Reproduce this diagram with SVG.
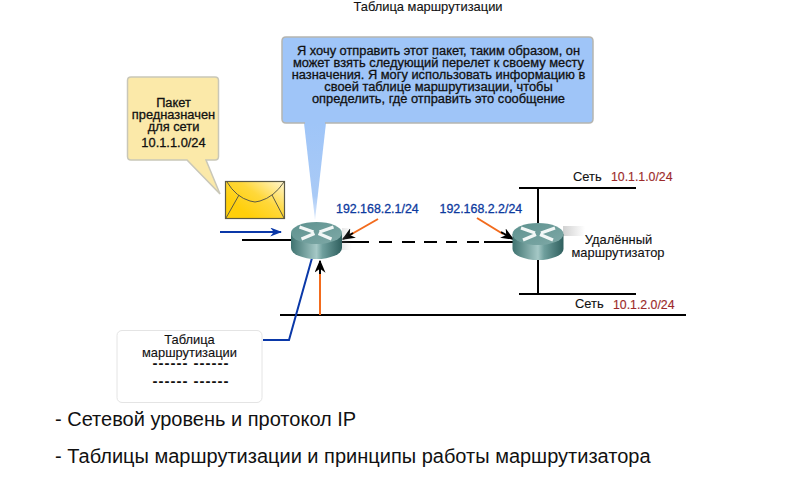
<svg xmlns="http://www.w3.org/2000/svg" width="800" height="500" viewBox="0 0 800 500">
<style>
text{font-family:"Liberation Sans",Arial,sans-serif;fill:#111;text-anchor:middle}
.s{font-size:12.9px;stroke:#111;stroke-width:.12}
.c{font-size:12.85px;stroke:#111;stroke-width:.3}
.ip{font-size:12.4px;fill:#0d3a9e;stroke:#0d3a9e;stroke-width:.3;text-anchor:start}
.net{font-size:12.3px;fill:#9c2a2a;stroke:#9c2a2a;stroke-width:.15;text-anchor:start}
.big{font-size:20px;text-anchor:start}
.dash{font-size:15px;font-weight:700;letter-spacing:1px}
.ln{stroke:#000;stroke-width:2;fill:none}
.or{stroke:#f26b1d;stroke-width:2;fill:none}
.bl{stroke:#0a38a8;stroke-width:2;fill:none}
.mark{fill:none;stroke:#f2f7f6;stroke-width:3.2}
</style>
<defs>
<linearGradient id="body" x1="0" x2="1" y1="0" y2="0">
<stop offset="0" stop-color="#3f7370"/><stop offset=".5" stop-color="#a5c8c6"/><stop offset=".62" stop-color="#6f9f9d"/><stop offset="1" stop-color="#2f5f5e"/>
</linearGradient>
<linearGradient id="top" x1="0" x2="1" y1="0" y2="1">
<stop offset="0" stop-color="#5d918e"/><stop offset="1" stop-color="#7fa9a7"/>
</linearGradient>
<linearGradient id="env" x1="0.2" x2="1" y1="0.7" y2="0">
<stop offset="0" stop-color="#ffcf0a"/><stop offset=".45" stop-color="#ffd83a"/><stop offset="1" stop-color="#fff6d2"/>
</linearGradient>
<linearGradient id="shade" x1="0" x2="1" y1="0" y2="0">
<stop offset="0" stop-color="#999" stop-opacity=".45"/><stop offset="1" stop-color="#999" stop-opacity="0"/>
</linearGradient>
<linearGradient id="tail" x1="0" x2="0" y1="0" y2="1">
<stop offset="0" stop-color="#9fc5f8"/><stop offset=".75" stop-color="#a9caf6"/><stop offset="1" stop-color="#dce9fb"/>
</linearGradient>
<marker id="ahb" viewBox="0 0 10 10" refX="9" refY="5" markerWidth="12" markerHeight="9" orient="auto" markerUnits="userSpaceOnUse" preserveAspectRatio="none"><path d="M0 0L10 5L0 10L3 5Z" fill="#0a38a8"/></marker>
<marker id="ahk" viewBox="0 0 10 10" refX="9" refY="5" markerWidth="13" markerHeight="11" orient="auto" markerUnits="userSpaceOnUse" preserveAspectRatio="none"><path d="M0 0L10 5L0 10L3 5Z" fill="#000"/></marker>
<g id="rt">
<path d="M-25.5 -11V4A25.5 11 0 0 0 25.5 4V-11Z" fill="url(#body)"/>
<ellipse cx="0" cy="-11" rx="25.5" ry="11" fill="url(#top)"/>
<path class="mark" d="M-17 -17L-3 -12M17 -17L3 -12M-15 -5L-2 -10.500M15 -5L2 -10.500"/>
</g>
</defs>
<rect width="800" height="500" fill="#fff"/>
<g id="title"><text class="s" x="428" y="11">Таблица маршрутизации</text></g>

<g id="connectors">
<path class="ln" d="M242 240H291"/>
<path class="ln" d="M342 242H369M379 242H392M402 242H415M424 242H437M446 242H457M467 242H479M484 242H513"/>
<path class="ln" d="M519 188H636M519 294H636M538 188V223M538 259V294"/>
<path class="ln" d="M280 315H686"/>
<path class="bl" d="M220 232H281" marker-end="url(#ahb)"/>
<path class="bl" d="M263 340H289L312 258"/>
<path class="or" d="M320 315V272"/>
<path class="ln" d="M320 274V261" marker-end="url(#ahk)"/>
<path class="or" d="M378 219L350 235"/>
<path class="ln" d="M353 233L343 239" marker-end="url(#ahk)"/>
<path class="or" d="M477 218L503 234"/>
<path class="ln" d="M501 232L513 239" marker-end="url(#ahk)"/>
</g>

<g id="packet-callout">
<path d="M131 77H215Q218.500 77 218.500 80.500V156.500Q218.500 160 215 160H206L220 194L187 160H131Q127.500 160 127.500 156.500V80.500Q127.500 77 131 77Z" fill="#fbe9a9" stroke="#c9c7b8" stroke-width="1.500"/>
<text class="c" x="173.500" y="107">Пакет</text>
<text class="c" x="173.500" y="119">предназначен</text>
<text class="c" x="173.500" y="131">для сети</text>
<text class="c" x="173.500" y="146.500">10.1.1.0/24</text>
</g>

<g id="envelope">
<rect x="225.500" y="181.500" width="59" height="37" fill="url(#env)" stroke="#5c5a45" stroke-width="1.200"/>
<path d="M227 182Q236 197 250 201Q255 203 260 201Q274 197 284 182M239 195L226 218M272 195L284 218" fill="none" stroke="#5c5a45" stroke-width="1"/>
</g>

<g id="thought-callout">
<path d="M304 123L315 220L326 123Z" fill="url(#tail)"/>
<path d="M286 37H589Q593 37 593 41V119Q593 123 589 123H286Q282 123 282 119V41Q282 37 286 37Z" fill="#9fc5f8" stroke="#b5b5b0" stroke-width="1.500"/>
<rect x="305" y="118" width="20" height="6.500" fill="#9fc5f8"/>
<text class="c" x="438.500" y="54.500">Я хочу отправить этот пакет, таким образом, он</text>
<text class="c" x="438.500" y="66.500">может взять следующий перелет к своему месту</text>
<text class="c" x="438.500" y="79">назначения. Я могу использовать информацию в</text>
<text class="c" x="438.500" y="91">своей таблице маршрутизации, чтобы</text>
<text class="c" x="438.500" y="103">определить, где отправить это сообщение</text>
</g>

<g id="router-local">
<rect x="342" y="228" width="10" height="22" fill="url(#shade)" opacity=".5"/>
<use href="#rt" x="316.500" y="244"/>
</g>
<g id="router-remote">
<rect x="563" y="226" width="22" height="10" fill="url(#shade)"/>
<use href="#rt" x="538" y="245"/>
</g>

<g id="labels">
<text class="ip" x="336" y="212.500">192.168.2.1/24</text>
<text class="ip" x="439.500" y="212.500">192.168.2.2/24</text>
<text class="s" x="573" y="181" style="text-anchor:start">Сеть</text>
<text class="net" x="611" y="181">10.1.1.0/24</text>
<text class="s" x="575" y="307.500" style="text-anchor:start">Сеть</text>
<text class="net" x="613" y="308.500">10.1.2.0/24</text>
<text class="s" x="618.500" y="244">Удалённый</text>
<text class="s" x="618" y="257">маршрутизатор</text>
</g>

<g id="routing-table">
<rect x="117" y="330.500" width="145" height="72" rx="5" fill="#fff" stroke="#e4e4e4"/>
<text class="s" x="189.500" y="344">Таблица</text>
<text class="s" x="189.500" y="356.500">маршрутизации</text>
<text class="dash" x="191" y="367.500">------ ------</text>
<text class="dash" x="191" y="386">------ ------</text>
</g>

<g id="notes">
<text class="big" x="55" y="426">- Сетевой уровень и протокол IP</text>
<text class="big" x="55" y="463">- Таблицы маршрутизации и принципы работы маршрутизатора</text>
</g>
</svg>
